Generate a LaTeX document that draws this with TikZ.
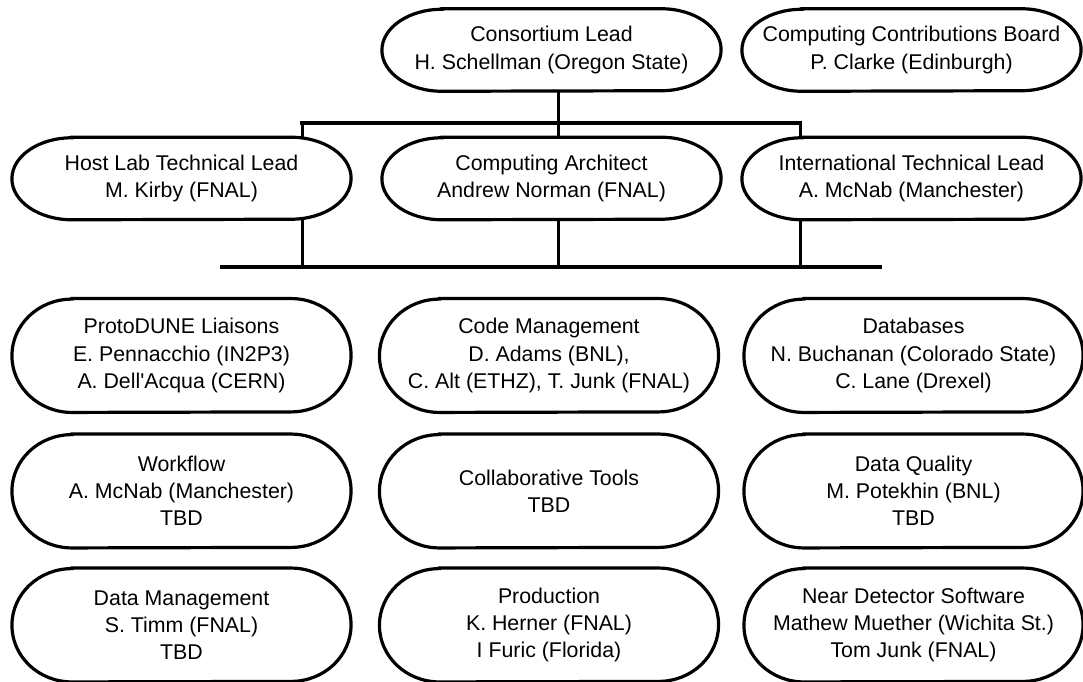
\documentclass[tikz,border=0pt]{standalone}
\usepackage{fontspec}
\setmainfont{Liberation Sans}
\usepackage{tikz}

\begin{document}
\begin{tikzpicture}[
  x=0.75pt, y=-0.75pt,
  font=\fontsize{16pt}{20.4pt}\selectfont,
  pill/.style={inner sep=0pt, align=center, minimum width=254pt},
  lead/.style={pill, minimum height=61.5pt},
  task/.style={pill, minimum height=85pt},
  outline/.style={line width=2.4pt},
  link/.style={line width=2.25pt},
  bus/.style={line width=3.2pt, line cap=rect}
]
  \useasboundingbox (0,0) rectangle (1083,682);

  % leads
  \node[lead] (cons) at (551.5,50)  {Consortium Lead\\H. Schellman (Oregon State)};
  \node[lead] (ccb)  at (911.5,50)  {Computing Contributions Board\\P. Clarke (Edinburgh)};
  \node[lead] (host) at (181.5,178.5) {Host Lab Technical Lead\\M. Kirby (FNAL)};
  \node[lead] (arch) at (551.5,178.5) {Computing Architect\\Andrew Norman (FNAL)};
  \node[lead] (intl) at (911.5,178.5) {International Technical Lead\\A. McNab (Manchester)};

  % working groups
  \node[task] (proto)  at (181.5,355.5) {ProtoDUNE Liaisons\\E. Pennacchio (IN2P3)\\A. Dell\textquotesingle Acqua (CERN)};
  \node[task] (code)   at (549,355.5)   {Code Management\\D. Adams (BNL),\\C. Alt (ETHZ), T. Junk (FNAL)};
  \node[task] (db)     at (913.5,355.5) {Databases\\N. Buchanan (Colorado State)\\C. Lane (Drexel)};
  \node[task] (work)   at (181.5,491)   {Workflow\\A. McNab (Manchester)\\TBD};
  \node[task] (collab) at (549,491)     {Collaborative Tools\\TBD};
  \node[task] (dq)     at (913.5,491)   {Data Quality\\M. Potekhin (BNL)\\TBD};
  \node[task] (dm)     at (181.5,625)   {Data Management\\S. Timm (FNAL)\\TBD};
  \node[task] (prod)   at (549,625)     {Production\\K. Herner (FNAL)\\I Furic (Florida)};
  \node[task] (nd)     at (913.5,625)   {Near Detector Software\\Mathew Muether (Wichita St.)\\Tom Junk (FNAL)};

  % pill outlines
  \foreach \nm/\ry in {cons/30.75pt, ccb/30.75pt, host/30.75pt, arch/30.75pt, intl/30.75pt,
                       proto/42.5pt, code/42.5pt, db/42.5pt, work/42.5pt, collab/42.5pt,
                       dq/42.5pt, dm/42.5pt, prod/42.5pt, nd/42.5pt}
    \draw[outline] ([xshift=45pt]\nm.north west) -- ([xshift=-45pt]\nm.north east)
      arc[start angle=90, end angle=-90, x radius=45pt, y radius=\ry]
      -- ([xshift=45pt]\nm.south west)
      arc[start angle=270, end angle=90, x radius=45pt, y radius=\ry] -- cycle;

  % connectors
  \coordinate (bar)    at (302,123);
  \coordinate (barend) at (800,123);
  \coordinate (bus)    at (222,267);
  \coordinate (busend) at (880,267);
  \coordinate (consdown) at ([xshift=5.6pt]cons.south);
  \coordinate (archdown) at ([xshift=5.6pt]arch.south);

  \draw[bus] (bar) -- (barend);
  \draw[bus] (bus) -- (busend);
  \draw[link] (consdown) -- (consdown |- arch.north);
  \draw[link] (bar) -- (bar |- host.north);
  \draw[link] (barend) -- (barend |- intl.north);
  \draw[link] (bar |- host.south) -- (bar |- bus);
  \draw[link] (archdown) -- (archdown |- bus);
  \draw[link] (barend |- intl.south) -- (barend |- bus);
\end{tikzpicture}
\end{document}
